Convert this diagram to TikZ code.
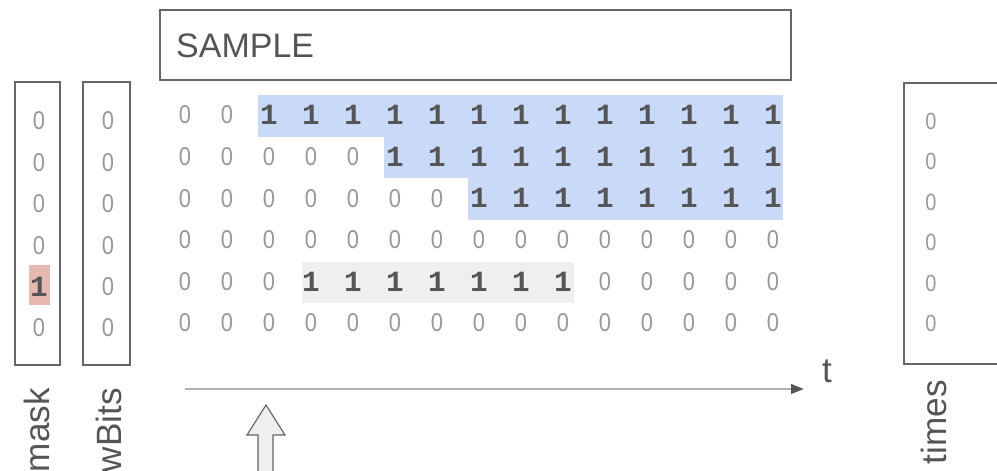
\documentclass[tikz,border=0pt]{standalone}
\usepackage{fontspec}
\setmainfont{Liberation Sans}
\newfontfamily\bitfont{Liberation Mono}
\usetikzlibrary{arrows.meta,positioning}
\definecolor{boxline}{HTML}{666666}
\definecolor{zerogray}{HTML}{999999}
\definecolor{onegray}{HTML}{555555}
\definecolor{runblue}{HTML}{C9DAF8}
\definecolor{rungray}{HTML}{EFEFEF}
\definecolor{maskred}{HTML}{E6B8AF}

\begin{document}
\begin{tikzpicture}
    [x=0.03cm,y=-0.03cm,inner sep=0pt,
    frame/.style={draw=boxline,line width=1.1pt},
    zero/.style={text=zerogray,font=\fontsize{22}{22}\selectfont,xscale=0.85},
    smallzero/.style={text=zerogray,font=\fontsize{20}{20}\selectfont,xscale=0.85},
    one/.style={text=onegray,font=\bitfont\bfseries\fontsize{25}{25}\selectfont},
    vlabel/.style={rotate=90,anchor=base east,text=onegray,font=\fontsize{30}{30}\selectfont},
    timeline/.style={draw=gray!60,line width=2.2pt,-{Triangle[length=11pt,width=8pt,color=onegray]}},
    pointer/.style={draw=boxline,fill=rungray,line width=1pt,line join=miter}]
    \useasboundingbox (0,0) rectangle (997,471);

    \draw[frame] (160,10) rectangle (791,80);
    \node[anchor=base west,text=onegray,font=\fontsize{29}{29}\selectfont] (sample) at (176,57) {SAMPLE};

    \draw[frame] (15,82) rectangle (60,365);
    \draw[frame] (83,82) rectangle (130,365);
    \draw[frame] (1000,83) -- (904,83) -- (904,364) -- (1000,364);

    \foreach \r/\c in {0/2,1/5,2/7}
        \fill[runblue] ({185+42*\c-11},{95+41.7*\r}) rectangle (783,{95+41.7*(\r+1)});
    \fill[rungray] (302,262) rectangle (574,303);
    \fill[maskred] (29,265) rectangle (50,305);

    \foreach \r/\lo/\hi in {0/2/14,1/5/14,2/7/14,3/99/0,4/3/9,5/99/0}
        \foreach \c in {0,...,14} {
            \pgfmathtruncatemacro\isone{and(\c>=\lo,\c<=\hi)}
            \ifnum\isone=1
                \node[one] (g-\r-\c) at ({185+42*\c},{115+41.6*\r}) {1};
            \else
                \node[zero] (g-\r-\c) at ({185+42*\c},{115+41.6*\r}) {0};
            \fi
        }

    \foreach \r in {0,...,5} {
        \ifnum\r=4
            \node[one] (mask-\r) at (39,{121+41.4*\r}) {1};
        \else
            \node[zero] (mask-\r) at (39,{121+41.4*\r}) {0};
        \fi
        \node[zero] (wbits-\r) at (108,{121+41.4*\r}) {0};
        \node[smallzero] (times-\r) at (931,{121+40.5*\r}) {0};
    }

    \node[vlabel] (masklabel) at (49,388) {mask};
    \node[vlabel] (wbitslabel) at (121,388) {wBits};
    \node[vlabel] (timeslabel) at (946,380) {times};

    \coordinate (axisstart) at (185,389);
    \coordinate (axisend) at (804,389);
    \draw[timeline] (axisstart) -- (axisend);
    \node[anchor=base,text=onegray,font=\fontsize{30}{30}\selectfont] (tlabel) at (827,382) {t};

    \draw[pointer] (266,405) -- (285,435) -- (273,435) -- (273,473)
        -- (258,473) -- (258,435) -- (247,435) -- cycle;
\end{tikzpicture}
\end{document}
